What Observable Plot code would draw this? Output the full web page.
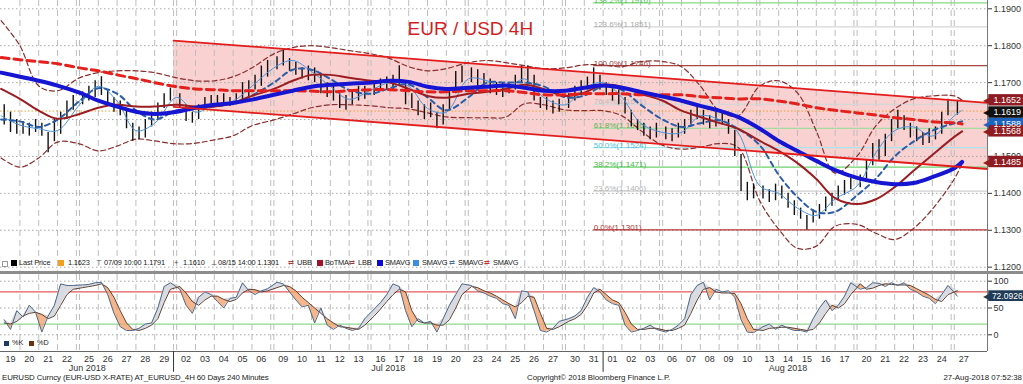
<!DOCTYPE html>
<html><head><meta charset="utf-8">
<script src="https://cdn.jsdelivr.net/npm/d3@7"></script>
<script src="https://cdn.jsdelivr.net/npm/@observablehq/plot@0.6"></script>
<style>
html,body{margin:0;padding:0;background:#fff;}
#wrap{position:relative;width:1023px;height:384px;overflow:hidden;font-family:"Liberation Sans",Arial,sans-serif;color:#222;background:#fff;}
#wrap svg{position:absolute;left:0;}
.t{position:absolute;white-space:nowrap;line-height:1;}
.sq{position:absolute;}
</style></head><body><div id="wrap"></div>
<script>
// ---------------- DATA ----------------
const dates = ["2018-06-19","2018-06-20","2018-06-21","2018-06-22","2018-06-25","2018-06-26","2018-06-27","2018-06-28","2018-06-29",
"2018-07-02","2018-07-03","2018-07-04","2018-07-05","2018-07-06","2018-07-09","2018-07-10","2018-07-11","2018-07-12","2018-07-13",
"2018-07-16","2018-07-17","2018-07-18","2018-07-19","2018-07-20","2018-07-23","2018-07-24","2018-07-25","2018-07-26","2018-07-27",
"2018-07-30","2018-07-31","2018-08-01","2018-08-02","2018-08-03","2018-08-06","2018-08-07","2018-08-08","2018-08-09","2018-08-10",
"2018-08-13","2018-08-14","2018-08-15","2018-08-16","2018-08-17","2018-08-20","2018-08-21","2018-08-22","2018-08-23","2018-08-24","2018-08-27"];
const monthLabels = ["Jun 2018","Jul 2018","Aug 2018"];

// 8-hour bars (3 per day), high / low
const hi = [1.1640,1.1620,1.1600, 1.1595,1.1590,1.1600, 1.1590,1.1565,1.1600, 1.1620,1.1650,1.1665, 1.1675,1.1690,1.1705,
1.1716,1.1680,1.1660, 1.1650,1.1630,1.1590, 1.1580,1.1600,1.1620, 1.1645,1.1670,1.1685, 1.1670,1.1640,1.1620,
1.1640,1.1660,1.1665, 1.1665,1.1670,1.1660, 1.1670,1.1700,1.1705, 1.1720,1.1745,1.1760, 1.1770,1.1791,1.1765,
1.1755,1.1740,1.1745, 1.1740,1.1720,1.1700, 1.1690,1.1670,1.1665, 1.1680,1.1690,1.1690, 1.1700,1.1710,1.1715,
1.1720,1.1746,1.1700, 1.1670,1.1650,1.1640, 1.1645,1.1620,1.1640, 1.1680,1.1730,1.1745, 1.1740,1.1735,1.1725,
1.1710,1.1700,1.1700, 1.1700,1.1720,1.1745, 1.1745,1.1720,1.1660, 1.1660,1.1650,1.1655, 1.1670,1.1690,1.1705,
1.1715,1.1740,1.1720, 1.1700,1.1690,1.1680, 1.1660,1.1625,1.1600, 1.1590,1.1580,1.1590, 1.1580,1.1575,1.1590,
1.1600,1.1625,1.1640, 1.1625,1.1610,1.1620, 1.1620,1.1600,1.1570, 1.1505,1.1430,1.1425, 1.1420,1.1410,1.1425,
1.1420,1.1400,1.1380, 1.1360,1.1340,1.1355, 1.1370,1.1390,1.1400, 1.1420,1.1435,1.1440, 1.1450,1.1490,1.1535,
1.1545,1.1560,1.1600, 1.1625,1.1610,1.1590, 1.1580,1.1565,1.1575, 1.1580,1.1620,1.1655, 1.1652];
const lo = [1.1585,1.1565,1.1560, 1.1560,1.1555,1.1565, 1.1555,1.1510,1.1540, 1.1560,1.1600,1.1625, 1.1640,1.1650,1.1660,
1.1665,1.1640,1.1620, 1.1610,1.1575,1.1541, 1.1545,1.1550,1.1580, 1.1600,1.1630,1.1650, 1.1630,1.1595,1.1590,
1.1600,1.1625,1.1630, 1.1635,1.1640,1.1635, 1.1640,1.1645,1.1660, 1.1680,1.1690,1.1715, 1.1735,1.1745,1.1730,
1.1720,1.1710,1.1705, 1.1700,1.1670,1.1660, 1.1650,1.1630,1.1625, 1.1640,1.1650,1.1655, 1.1665,1.1675,1.1680,
1.1680,1.1690,1.1640, 1.1630,1.1610,1.1600, 1.1605,1.1575,1.1585, 1.1625,1.1670,1.1700, 1.1700,1.1690,1.1685,
1.1670,1.1665,1.1660, 1.1670,1.1680,1.1700, 1.1700,1.1650,1.1630, 1.1625,1.1615,1.1620, 1.1630,1.1650,1.1665,
1.1680,1.1690,1.1680, 1.1665,1.1650,1.1640, 1.1615,1.1580,1.1570, 1.1555,1.1545,1.1550, 1.1545,1.1540,1.1550,
1.1560,1.1580,1.1600, 1.1585,1.1575,1.1580, 1.1585,1.1560,1.1500, 1.1405,1.1380,1.1385, 1.1385,1.1375,1.1380,
1.1385,1.1360,1.1340, 1.1330,1.1301,1.1320, 1.1330,1.1350,1.1365, 1.1380,1.1395,1.1410, 1.1415,1.1440,1.1475,
1.1490,1.1500,1.1540, 1.1575,1.1570,1.1550, 1.1540,1.1530,1.1535, 1.1545,1.1560,1.1610, 1.1612];

// stochastic %K / %D per bar
const pctK = [28,10,45, 33,55,42, 5,35,55, 95,92,92, 93,94,97, 98,75,40, 15,8,8, 12,20,22, 50,90,97, 85,55,40,
70,80,75, 62,50,68, 70,97,82, 75,82,86, 98,95,80, 65,52,55, 22,50,18, 10,18,12, 8,12,30, 48,60,75,
95,90,45, 15,30,22, 25,5,30, 55,75,95, 92,82,78, 72,68,58, 55,30,82, 80,45,8, 5,12,25, 30,35,45,
70,88,80, 65,58,55, 18,5,8, 12,18,10, 5,10,18, 30,75,92, 98,65,85, 80,82,70, 28,5,4, 15,20,10,
18,12,8, 8,5,30, 50,65,45, 55,72,97, 85,88,97, 96,90,97, 92,97,85, 80,72,68, 58,75,92, 72];
const pctD = [22,20,25, 35,40,42, 38,30,35, 55,75,85, 88,90,92, 95,88,70, 45,22,10, 8,12,18, 30,60,85, 90,78,62,
55,65,72, 72,66,62, 66,78,85, 84,80,82, 88,92,90, 82,70,60, 50,40,30, 22,15,14, 12,10,18, 35,48,62,
75,85,80, 45,25,22, 22,18,18, 28,50,75, 90,88,82, 78,72,65, 58,52,60, 72,70,40, 12,10,15, 25,30,38,
55,78,85, 75,65,60, 42,20,10, 10,12,12, 8,8,12, 18,40,65, 85,88,80, 78,78,77, 58,30,10, 8,12,13,
14,14,12, 10,8,10, 22,40,55, 50,58,75, 95,85,87, 92,95,94, 93,93,92, 86,80,74, 66,62,75, 82];

// studies, one value per day start plus the latest value
const smaBlue = [1.1727,1.1716,1.1705,1.1692,1.1673,1.1651,1.1635,1.1621,1.1615,1.1621,1.1632,1.1640,1.1645,1.1654,1.1667,1.1678,1.1689,
1.1694,1.1697,1.1700,1.1705,1.1702,1.1689,1.1683,1.1686,1.1689,1.1692,1.1686,1.1678,1.1678,1.1686,1.1692,1.1686,1.1675,1.1662,1.1651,
1.1637,1.1624,1.1607,1.1575,1.1542,1.1515,1.1488,1.1463,1.1442,1.1431,1.1425,1.1428,1.1444,1.1468,1.1485];
const smaRed = [1.1768,1.1762,1.1757,1.1751,1.1740,1.1732,1.1721,1.1711,1.1700,1.1689,1.1683,1.1681,1.1678,1.1678,1.1678,1.1678,1.1677,
1.1675,1.1678,1.1681,1.1681,1.1678,1.1675,1.1675,1.1678,1.1678,1.1678,1.1673,1.1667,1.1667,1.1670,1.1670,1.1670,1.1667,1.1667,1.1667,
1.1662,1.1659,1.1656,1.1656,1.1650,1.1642,1.1632,1.1625,1.1618,1.1612,1.1605,1.1600,1.1594,1.1591,1.1588];
const boTMA = [1.1683,1.1656,1.1624,1.1602,1.1615,1.1632,1.1640,1.1635,1.1635,1.1640,1.1635,1.1635,1.1645,1.1664,1.1683,1.1705,1.1721,
1.1721,1.1713,1.1705,1.1700,1.1683,1.1664,1.1659,1.1670,1.1675,1.1683,1.1694,1.1683,1.1664,1.1673,1.1694,1.1689,1.1670,1.1651,1.1624,
1.1607,1.1591,1.1575,1.1542,1.1515,1.1482,1.1439,1.1387,1.1371,1.1384,1.1417,1.1461,1.1504,1.1553,1.1568];
const ubb = [1.1868,1.1800,1.1691,1.1678,1.1713,1.1727,1.1732,1.1732,1.1727,1.1713,1.1705,1.1705,1.1716,1.1740,1.1778,1.1795,1.1800,
1.1795,1.1787,1.1778,1.1765,1.1743,1.1732,1.1738,1.1754,1.1760,1.1754,1.1746,1.1738,1.1740,1.1748,1.1748,1.1743,1.1757,1.1757,1.1743,
1.1691,1.1624,1.1610,1.1691,1.1705,1.1672,1.1569,1.1455,1.1501,1.1583,1.1629,1.1656,1.1664,1.1664,1.1652];
const lbb = [1.1496,1.1471,1.1496,1.1539,1.1534,1.1515,1.1528,1.1547,1.1542,1.1534,1.1536,1.1545,1.1556,1.1583,1.1599,1.1615,1.1632,
1.1640,1.1640,1.1637,1.1632,1.1629,1.1618,1.1607,1.1605,1.1605,1.1607,1.1643,1.1640,1.1626,1.1624,1.1624,1.1610,1.1570,1.1530,1.1520,
1.1525,1.1535,1.1525,1.1379,1.1303,1.1251,1.1257,1.1311,1.1316,1.1292,1.1275,1.1305,1.1357,1.1439,1.1480];
const smaSteel = [1.1600,1.1595,1.1580,1.1600,1.1650,1.1685,1.1670,1.1625,1.1600,1.1625,1.1630,1.1635,1.1645,1.1665,1.1700,1.1735,1.1735,
1.1710,1.1680,1.1670,1.1685,1.1695,1.1660,1.1625,1.1660,1.1700,1.1700,1.1700,1.1690,1.1660,1.1665,1.1690,1.1680,1.1640,1.1600,1.1580,
1.1590,1.1598,1.1575,1.1530,1.1450,1.1390,1.1350,1.1350,1.1395,1.1440,1.1500,1.1540,1.1570,1.1590,1.1595];
const smaLight = [1.1610,1.1585,1.1575,1.1570,1.1640,1.1690,1.1650,1.1570,1.1590,1.1660,1.1620,1.1640,1.1650,1.1690,1.1740,1.1760,1.1730,
1.1690,1.1655,1.1680,1.1700,1.1690,1.1630,1.1620,1.1710,1.1705,1.1685,1.1710,1.1660,1.1640,1.1685,1.1700,1.1660,1.1590,1.1565,1.1565,
1.1610,1.1600,1.1565,1.1420,1.1400,1.1360,1.1340,1.1385,1.1420,1.1510,1.1570,1.1580,1.1555,1.1610,1.1625];

// channel (trend lines) and fibonacci
const chanFrom = "2018-07-02";
const chanTop = [1.1814, 1.1645];
const chanBot = [1.16345, 1.1466];
const fibFrom = "2018-07-31";
const fibPct = ["138.2%","123.6%","100.0%","76.4%","61.8%","50.0%","38.2%","23.6%","0.0%"];
const fibLevels = [1.1916,1.1851,1.1746,1.1641,1.1576,1.1524,1.1471,1.1406,1.1301];
const priceTicks = [1.12,1.13,1.14,1.15,1.16,1.17,1.18,1.19];
const lastPrice = 1.1623;
const tagSeries = ["SMAVG2","BoTMA","UBB","Last","SMAVG1"];
const tagValues = [1.1588,1.1568,1.1652,1.1619,1.1485];
const kLast = 72.0926;
const oscTicks = [0,50,100];
const oscHigh = 80, oscLow = 20;

// ---------------- STYLES ----------------
const FONT = "Liberation Sans, Arial, sans-serif";
const fibStyle = {
  "138.2%":{line:"#86da86",text:"#4fbf4f"}, "123.6%":{line:"#d6d6d6",text:"#a9a9a9"},
  "100.0%":{line:"#a84545",text:"#9a3b3b"}, "76.4%":{line:"#d6d6d6",text:"#bdbdbd"},
  "61.8%":{line:"#a4dca4",text:"#4fb84f"}, "50.0%":{line:"#a8e4ec",text:"#4ec3d3"},
  "38.2%":{line:"#6cd26c",text:"#46b846"}, "23.6%":{line:"#d0d0d0",text:"#b3b3b3"},
  "0.0%":{line:"#b23232",text:"#b03030"}};
const tagColor = {SMAVG2:"#1c64c0", BoTMA:"#8e1c22", UBB:"#8e1c22", Last:"#111111", SMAVG1:"#8e1c22"};

// ---------------- LAYOUT (slots: one per 4h bar, plus Sunday bar) ----------------
const isMon = dates.map(d => new Date(d + "T00:00:00Z").getUTCDay() === 1);
const dayStart = []; { let m = 0; dates.forEach((d, i) => { if (isMon[i]) m++; dayStart.push(6 * i + m); }); }
const idxOf = d => dates.indexOf(d);
const xDom = [-0.19, 314.6];
const lastSlot = dayStart[dayStart.length - 1] + 2.5;

const bars = []; { let b = 0; dates.forEach((d, i) => { const n = i < dates.length - 1 ? 3 : hi.length - b;
  for (let j = 0; j < n; j++) { const k = pctK[b], dd = pctD[b];
    bars.push({s: dayStart[i] + 2 * j + 1, hi: hi[b], lo: lo[b], k, d: dd, mx: Math.max(k, dd)}); b++; } }); }
const maSlots = [...dayStart, lastSlot];
const ma = maSlots.map((s, i) => ({s, blue: smaBlue[i], red: smaRed[i], bot: boTMA[i], ubb: ubb[i], lbb: lbb[i], steel: smaSteel[i], light: smaLight[i]}));

const gridSlots = [];
dates.forEach((d, i) => { if (i === 0) return; if (isMon[i]) gridSlots.push(dayStart[i] - 1); gridSlots.push(dayStart[i]); });
const dayCenters = dayStart.map(s => s + 3);
const dayLabel = new Map(dayCenters.map((s, i) => [s, dates[i].slice(8, 10)]));
const monthStarts = [];
dates.forEach((d, i) => { if (i > 0 && d.slice(5, 7) !== dates[i - 1].slice(5, 7)) monthStarts.push(isMon[i] ? dayStart[i] - 1 : dayStart[i]); });
const mBounds = [0, ...monthStarts, dayStart[dayStart.length - 1] + 6];
const months = monthLabels.map((t, i) => ({t, s: (mBounds[i] + mBounds[i + 1]) / 2}));

const c0 = dayStart[idxOf(chanFrom)] - 1;
const chan = [{s: c0, top: chanTop[0], bot: chanBot[0]}, {s: xDom[1], top: chanTop[1], bot: chanBot[1]}];
const fibX = dayStart[idxOf(fibFrom)] + 3;
const fibs = fibLevels.map((v, i) => ({v, p: fibPct[i], label: `${fibPct[i]}(${v.toFixed(4)})`}));
const tags = tagValues.map((v, i) => ({v, c: tagColor[tagSeries[i]]}));

// ---------------- MAIN PANEL ----------------
const main = Plot.plot({
  width: 1023, height: 272, marginLeft: 0, marginRight: 36, marginTop: 0, marginBottom: 0,
  style: {fontFamily: FONT, fontSize: "9px", background: "transparent", color: "#333"},
  x: {domain: xDom, axis: null},
  y: {domain: [1.11856, 1.19225], axis: "right", ticks: priceTicks, tickFormat: d => d.toFixed(4), tickSize: 4, tickPadding: 2, label: null},
  color: {type: "identity"},
  marks: [
    Plot.areaY(chan, {x: "s", y1: "bot", y2: "top", fill: "#f5b3b3", fillOpacity: 0.6}),
    Plot.ruleX(gridSlots, {stroke: "#bdbdbd", strokeDasharray: "6,4", strokeWidth: 1}),
    Plot.ruleY(priceTicks, {stroke: "#a8a8a8", strokeDasharray: "1.5,2.5"}),
    Plot.ruleY([lastPrice], {stroke: "#f0a030", strokeDasharray: "1.5,2"}),
    Plot.ruleY(fibs, {y: "v", x1: fibX, x2: xDom[1], stroke: d => fibStyle[d.p].line, strokeWidth: 1.2}),
    Plot.text(fibs, {x: fibX, y: "v", text: "label", fill: d => fibStyle[d.p].text, textAnchor: "start", lineAnchor: "bottom", dy: 0, fontSize: 8, fontFamily: FONT}),
    Plot.line(ma, {x: "s", y: "ubb", stroke: "#8a2d2d", strokeWidth: 1.2, strokeDasharray: "5,3", curve: "catmull-rom"}),
    Plot.line(ma, {x: "s", y: "lbb", stroke: "#8a2d2d", strokeWidth: 1.2, strokeDasharray: "5,3", curve: "catmull-rom"}),
    Plot.ruleX(bars, {x: "s", y1: "lo", y2: "hi", stroke: "#111", strokeWidth: 1.4}),
    Plot.line(ma, {x: "s", y: "light", stroke: "#4b95dc", strokeWidth: 1, curve: "catmull-rom"}),
    Plot.line(ma, {x: "s", y: "steel", stroke: "#2a5da5", strokeWidth: 2, strokeDasharray: "5,4", curve: "catmull-rom"}),
    Plot.line(ma, {x: "s", y: "bot", stroke: "#9a1d22", strokeWidth: 2, curve: "catmull-rom"}),
    Plot.line(ma, {x: "s", y: "red", stroke: "#e3201c", strokeWidth: 3, strokeDasharray: "8,5", curve: "catmull-rom"}),
    Plot.line(ma, {x: "s", y: "blue", stroke: "#1616d2", strokeWidth: 4, curve: "catmull-rom"}),
    Plot.line(chan, {x: "s", y: "top", stroke: "#e31c1c", strokeWidth: 1.8}),
    Plot.line(chan, {x: "s", y: "bot", stroke: "#e31c1c", strokeWidth: 1.8}),
    Plot.ruleX([xDom[1]], {stroke: "#777", strokeWidth: 1}),
    Plot.text(["EUR / USD 4H"], {frameAnchor: "top-left", dx: 407, dy: 28, text: d => d, fill: "#d21f1f", fontSize: 19, textAnchor: "start", lineAnchor: "middle", fontFamily: FONT}),
    Plot.rect(tags, {x1: 315, x2: 330, y1: d => d.v - 0.00155, y2: d => d.v + 0.00155, fill: "c"}),
    Plot.text(tags, {x: 314.15, y: "v", text: () => "\u25C0", fill: "c", fontSize: 8, textAnchor: "middle"}),
    Plot.text(tags, {x: 316.5, y: "v", text: d => d.v.toFixed(4), fill: "#fff", fontSize: 9, textAnchor: "start", fontFamily: FONT})
  ]
});
main.style.top = "0px";
document.getElementById("wrap").append(main);

// ---------------- STOCHASTIC PANEL ----------------
const osc = Plot.plot({
  width: 1023, height: 112, marginLeft: 0, marginRight: 36, marginTop: 2, marginBottom: 33,
  style: {fontFamily: FONT, fontSize: "9px", background: "transparent", color: "#333"},
  x: {domain: xDom, axis: "bottom", ticks: dayCenters, tickFormat: s => dayLabel.get(s), tickSize: 0, tickPadding: 4, label: null},
  y: {domain: [-31.2, 112.5], axis: "right", ticks: oscTicks, tickSize: 4, tickPadding: 2, label: null},
  color: {type: "identity"},
  marks: [
    Plot.ruleX(gridSlots, {stroke: "#bdbdbd", strokeDasharray: "6,4", strokeWidth: 1}),
    Plot.ruleY(oscTicks, {stroke: "#a8a8a8", strokeDasharray: "1.5,2.5"}),
    Plot.ruleY([oscHigh], {stroke: "#e05a5a", strokeWidth: 1.2}),
    Plot.ruleY([oscLow], {stroke: "#8ed88e", strokeWidth: 1.2}),
    Plot.areaY(bars, {x: "s", y1: "k", y2: "mx", fill: "#f4a46e", fillOpacity: 0.8}),
    Plot.areaY(bars, {x: "s", y1: "d", y2: "mx", fill: "#d9dbe1"}),
    Plot.line(bars, {x: "s", y: "d", stroke: "#5a4036", strokeWidth: 1}),
    Plot.line(bars, {x: "s", y: "k", stroke: "#4e6a8c", strokeWidth: 1}),
    Plot.ruleX([xDom[1]], {stroke: "#777"}),
    Plot.ruleY([-31.2], {stroke: "#666"}),
    Plot.ruleX(monthStarts, {y1: -31.2, y2: -70, stroke: "#333"}),
    Plot.text(months, {x: "s", y: -31.2, dy: 17, text: "t", fontSize: 9, fontFamily: FONT, fill: "#333"}),
    Plot.rect([kLast], {x1: 315, x2: 330, y1: d => d - 10, y2: d => d + 10, fill: "#1f3b57"}),
    Plot.text([kLast], {x: 314.15, y: d => d, text: () => "\u25C0", fill: "#1f3b57", fontSize: 8}),
    Plot.text([kLast], {x: 316.0, y: d => d, text: d => d.toFixed(4), fill: "#fff", fontSize: 8.5, textAnchor: "start", fontFamily: FONT})
  ]
});
osc.style.top = "272px";
document.getElementById("wrap").append(osc);

// ---------------- LEGENDS / CAPTION ----------------
const wrap = document.getElementById("wrap");
function T(x, yc, s, fs, col, anchor, ls) {
  const e = document.createElement("div"); e.className = "t"; e.textContent = s;
  e.style.fontSize = fs + "px"; e.style.top = (yc - fs * 0.55) + "px"; e.style.color = col || "#222";
  if (ls) e.style.letterSpacing = ls + "px";
  if (anchor === "end") { e.style.right = (1023 - x) + "px"; } else e.style.left = x + "px";
  wrap.append(e); return e;
}
function S(x, yc, sz, col, border) {
  const e = document.createElement("div"); e.className = "sq";
  e.style.left = x + "px"; e.style.top = (yc - sz / 2) + "px"; e.style.width = sz + "px"; e.style.height = sz + "px";
  e.style.background = col; if (border) e.style.border = border; wrap.append(e);
}
const sep = document.createElement("div");
sep.style.cssText = "position:absolute;left:0;top:271px;width:1023px;height:3px;background:#8c8c8c;";
wrap.append(sep);

const LY = 263, LF = 7.4, LS = -0.15;
S(2, LY, 4, "#fff", "1px solid #999");
S(11, LY, 6, "#000");
T(19, LY, "Last Price", LF, null, null, LS);
S(58, LY, 6, "#f0a020");
T(68, LY, "1.1623", LF, null, null, LS);
T(96, LY, "\u22A4", LF, "#555");
T(104, LY, "07/09 10:00 1.1791", LF, null, null, LS);
T(174, LY, "+", LF, "#555");
T(183, LY, "1.1610", LF, null, null, LS);
T(211, LY, "\u22A5", LF, "#555");
T(218, LY, "08/15 14:00 1.1301", LF, null, null, LS);
T(288, LY, "\u21C4", LF, "#a04040");
T(297, LY, "UBB", LF, null, null, LS);
S(317, LY, 6, "#a0122a");
T(325, LY, "BoTMA", LF, null, null, LS);
T(349, LY, "\u21C4", LF, "#a04040");
T(358, LY, "LBB", LF, null, null, LS);
S(377, LY, 6, "#0a0ad0");
T(385, LY, "SMAVG", LF, null, null, LS);
S(413, LY, 6, "#3c8ce6");
T(422, LY, "SMAVG", LF, null, null, LS);
T(449, LY, "\u21C4", LF, "#4a6a9a");
T(458, LY, "SMAVG", LF, null, null, LS);
T(484, LY, "\u21C4", LF, "#d03030");
T(493, LY, "SMAVG", LF, null, null, LS);

S(4, 343, 5, "#1f3b5f");
T(12, 343, "%K", 7.2);
S(29, 343, 5, "#6b3010");
T(37, 343, "%D", 7.2);

T(2, 378, "EURUSD Curncy (EUR-USD X-RATE) AT_EURUSD_4H 60 Days 240 Minutes", 7.9, null, null, -0.12);
T(527, 378, "Copyright\u00A9 2018 Bloomberg Finance L.P.", 7.9, null, null, -0.05);
T(1022, 378, "27-Aug-2018 07:52:38", 7.9, "#222", "end");
</script></body></html>
